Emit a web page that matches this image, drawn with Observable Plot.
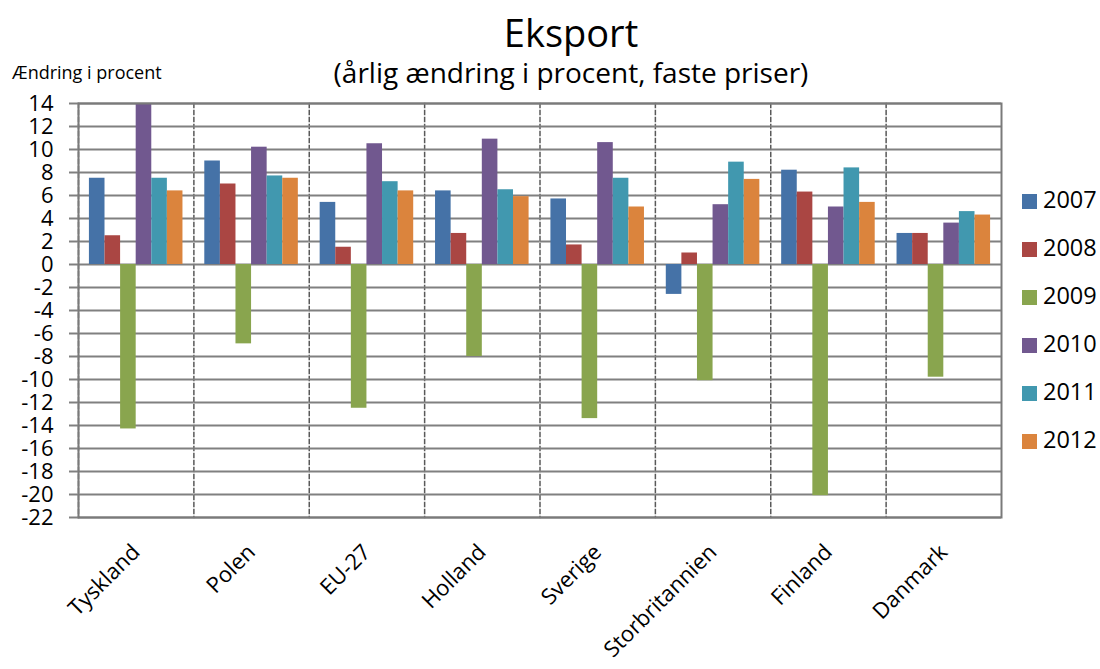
<!DOCTYPE html>
<html><head><meta charset="utf-8">
<script src="https://cdn.jsdelivr.net/npm/d3@7"></script>
<script src="https://cdn.jsdelivr.net/npm/@observablehq/plot@0.6"></script>
<style>
body{margin:0;background:#fff;font-family:"Open Sans",sans-serif;}
#wrap{position:relative;width:1100px;height:669px;overflow:hidden;background:#fff;}
.abs{position:absolute;white-space:nowrap;color:#000;line-height:1;}
</style></head><body><div id="wrap"></div>
<script>
const countries = ["Tyskland","Polen","EU-27","Holland","Sverige","Storbritannien","Finland","Danmark"];
const years = ["2007","2008","2009","2010","2011","2012"];
const v2007 = [7.5, 9.0, 5.4, 6.4, 5.7, -2.6, 8.2, 2.7];
const v2008 = [2.5, 7.0, 1.5, 2.7, 1.7, 1.0, 6.3, 2.7];
const v2009 = [-14.3, -6.9, -12.5, -8.0, -13.4, -10.1, -20.1, -9.8];
const v2010 = [14.0, 10.2, 10.5, 10.9, 10.6, 5.2, 5.0, 3.6];
const v2011 = [7.5, 7.7, 7.2, 6.5, 7.5, 8.9, 8.4, 4.6];
const v2012 = [6.4, 7.5, 6.4, 5.9, 5.0, 7.4, 5.4, 4.3];
const colors = ["#4572A7","#AA4643","#89A54E","#71588F","#4198AF","#DB843D"];
const yTicks = d3.range(-22, 15, 2);

const series = [v2007, v2008, v2009, v2010, v2011, v2012];
const data = [];
countries.forEach((c, i) => years.forEach((y, j) => data.push({country: c, year: y, value: series[j][i]})));

const chart = Plot.plot({
  width: 1100, height: 669,
  marginLeft: 78, marginRight: 99, marginTop: 103, marginBottom: 152,
  style: {fontFamily: "'Open Sans', sans-serif", background: "white", color: "black"},
  fx: {domain: countries, padding: 0, round: false, label: null},
  x: {domain: years, paddingInner: 0, paddingOuter: 0.7, round: false, axis: null},
  y: {domain: [-22, 14], label: null},
  color: {domain: years, range: colors},
  marks: [
    Plot.frame({anchor: "left", stroke: "#595959", strokeWidth: 1.5, strokeDasharray: "4,3"}),
    Plot.gridY(yTicks, {stroke: "#808080", strokeOpacity: 1, strokeWidth: 2}),
    Plot.barY(data, {fx: "country", x: "year", y: "value", fill: "year"}),
    Plot.frame({facet: "super", stroke: "#7a7a7a", strokeWidth: 2}),
    Plot.axisY(yTicks, {tickSize: 9, tickPadding: 16, fontSize: 22, tickFormat: d => String(d), stroke: "#808080", strokeWidth: 2, label: null}),
    Plot.axisFx({anchor: "bottom", tickRotate: -45, tickSize: 0, tickPadding: 31, fontSize: 22, label: null})
  ]
});

const wrap = document.getElementById("wrap");
wrap.appendChild(chart);

function addText(txt, left, top, size, center) {
  const d = document.createElement("div");
  d.className = "abs";
  d.textContent = txt;
  d.style.fontSize = size + "px";
  d.style.top = top + "px";
  if (center) { d.style.left = (left - 400) + "px"; d.style.width = "800px"; d.style.textAlign = "center"; }
  else d.style.left = left + "px";
  wrap.appendChild(d);
}
addText("Eksport", 571, 13, 38, true);
addText("(årlig ændring i procent, faste priser)", 571, 58, 28, true);
addText("Ændring i procent", 12, 63, 18, false);

years.forEach((y, i) => {
  const cy = 201 + i * 48;
  const sq = document.createElement("div");
  sq.style.cssText = `position:absolute;left:1022px;top:${cy - 7.5}px;width:15px;height:15px;background:${colors[i]};`;
  wrap.appendChild(sq);
  addText(y, 1043, cy + 8.4 - 21, 23.5, false);
});
</script></body></html>
